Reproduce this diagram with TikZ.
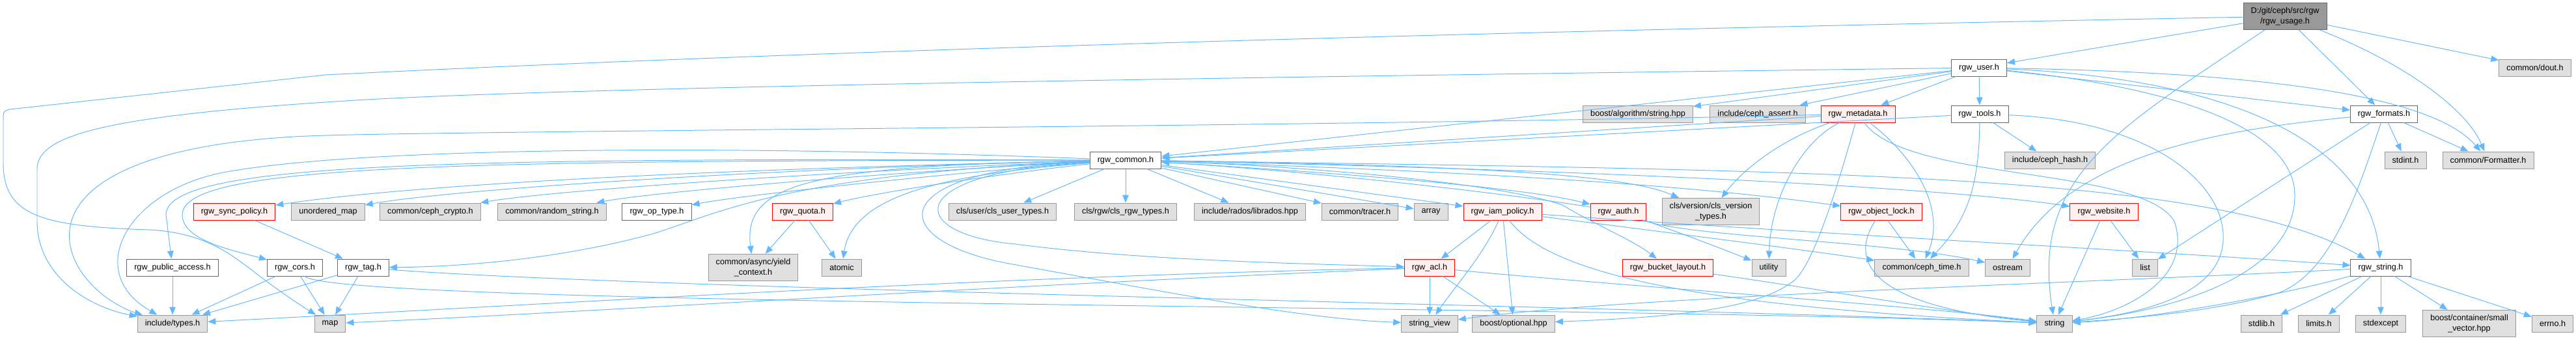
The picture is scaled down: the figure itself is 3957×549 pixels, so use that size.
\documentclass[tikz,border=0pt]{standalone}
\usepackage{fontspec}
\setmainfont{Liberation Sans}
\usepackage{xcolor}
\usepackage{tikz}
\usetikzlibrary{arrows.meta}
\definecolor{edgeblue}{RGB}{99, 184, 255}
\definecolor{sysgray}{RGB}{224, 224, 224}
\definecolor{sysborder}{RGB}{153, 153, 153}
\definecolor{fileborder}{RGB}{102, 102, 102}
\definecolor{rootgray}{RGB}{153, 153, 153}
\definecolor{truncred}{RGB}{255, 240, 240}

\begin{document}
\begin{tikzpicture}[
  x=0.025cm, y=-0.025cm,
  box/.style={draw=fileborder, fill=white, line width=0.7pt, minimum height=0.65cm,
              inner xsep=0.29cm, inner ysep=0.08cm, align=center,
              font=\fontsize{9}{11.3}\selectfont},
  sysbox/.style={box, draw=sysborder, fill=sysgray},
  redbox/.style={box, draw=red, fill=truncred},
  rootbox/.style={box, draw=fileborder, fill=rootgray},
  tall/.style={minimum height=1.03cm},
  arrow/.style={draw=edgeblue, line width=0.7pt, -{Triangle[length=0.3cm, width=0.24cm]}}
]
  \useasboundingbox (0,0) rectangle (3957,549);

  % Root file
  \node[rootbox, tall] (root) at (3510,25) {D:/git/ceph/src/rgw\\/rgw\_usage.h};
  \node[sysbox] (dout) at (3894,104) {common/dout.h};
  \node[box] (user) at (3040,104) {rgw\_user.h};

  % Second row
  \node[sysbox] (boostalgo) at (2516,175) {boost/algorithm/string.hpp};
  \node[sysbox] (assert) at (2700,175) {include/ceph\_assert.h};
  \node[redbox] (metadata) at (2854,175) {rgw\_metadata.h};
  \node[box] (tools) at (3041,175) {rgw\_tools.h};
  \node[box] (formats) at (3662,175) {rgw\_formats.h};
  \node[sysbox] (hash) at (3149,246) {include/ceph\_hash.h};
  \node[sysbox] (stdint) at (3695,246) {stdint.h};
  \node[sysbox] (formatter) at (3822,246) {common/Formatter.h};
  \node[box] (common) at (1729,246) {rgw\_common.h};

  % Headers of rgw_common.h
  \node[redbox] (syncpol) at (360,325) {rgw\_sync\_policy.h};
  \node[sysbox] (unordmap) at (504,325) {unordered\_map};
  \node[sysbox] (crypto) at (661,325) {common/ceph\_crypto.h};
  \node[sysbox] (random) at (848,325) {common/random\_string.h};
  \node[box] (optype) at (1009,325) {rgw\_op\_type.h};
  \node[redbox] (quota) at (1233,325) {rgw\_quota.h};
  \node[sysbox] (clsuser) at (1540,325) {cls/user/cls\_user\_types.h};
  \node[sysbox] (clsrgw) at (1729,325) {cls/rgw/cls\_rgw\_types.h};
  \node[sysbox] (librados) at (1920,325) {include/rados/librados.hpp};
  \node[sysbox] (tracer) at (2089,325) {common/tracer.h};
  \node[sysbox] (array) at (2198,325) {array};
  \node[redbox] (iam) at (2308,325) {rgw\_iam\_policy.h};
  \node[redbox] (auth) at (2486,325) {rgw\_auth.h};
  \node[sysbox, tall] (clsver) at (2628,325) {cls/version/cls\_version\\\_types.h};
  \node[redbox] (objlock) at (2890,325) {rgw\_object\_lock.h};
  \node[redbox] (website) at (3232,325) {rgw\_website.h};

  % Third row
  \node[box] (pubacc) at (265,411) {rgw\_public\_access.h};
  \node[box] (cors) at (453,411) {rgw\_cors.h};
  \node[box] (tag) at (558,411) {rgw\_tag.h};
  \node[sysbox, tall] (yield) at (1157,411) {common/async/yield\\\_context.h};
  \node[sysbox] (atomic) at (1293,411) {atomic};
  \node[redbox] (acl) at (2196,411) {rgw\_acl.h};
  \node[redbox] (bucket) at (2562,411) {rgw\_bucket\_layout.h};
  \node[sysbox] (utility) at (2717,411) {utility};
  \node[sysbox] (cephtime) at (2952,411) {common/ceph\_time.h};
  \node[sysbox] (ostream) at (3084,411) {ostream};
  \node[sysbox] (list) at (3295,411) {list};
  \node[box] (rgwstring) at (3657,411) {rgw\_string.h};

  % Bottom row
  \node[sysbox] (types) at (265,497) {include/types.h};
  \node[sysbox] (map) at (507,497) {map};
  \node[sysbox] (strview) at (2196,497) {string\_view};
  \node[sysbox] (optional) at (2325,497) {boost/optional.hpp};
  \node[sysbox] (string) at (3156,497) {string};
  \node[sysbox] (stdlib) at (3474,497) {stdlib.h};
  \node[sysbox] (limits) at (3562,497) {limits.h};
  \node[sysbox] (stdexcept) at (3657,497) {stdexcept};
  \node[sysbox, tall] (smallvec) at (3793,497) {boost/container/small\\\_vector.hpp};
  \node[sysbox] (errno) at (3921,497) {errno.h};

  % Arrows from rgw_usage.h
  \draw[arrow] (root) -- (user);
  \draw[arrow] (root) -- (dout);
  \draw[arrow] (root) -- (formats);
  \draw[arrow] (root) .. controls (3700,100) and (3790,170) .. (formatter);
  \draw[arrow] (root) .. controls (3250,200) and (3120,270) .. (string);
  \draw[arrow] (root) .. controls (2200,50) and (1200,80) .. (500,115) -- (15,168)
    .. controls (5,170) and (5,172) .. (5,185) -- (5,250)
    .. controls (5,330) and (60,348) .. (230,353)
    .. controls (320,358) and (360,395) .. (400,425)
    .. controls (430,448) and (460,468) .. (map);

  % Arrows from rgw_user.h
  \draw[arrow] (user) .. controls (1800,120) and (800,135) .. (500,157)
    .. controls (150,180) and (57,210) .. (57,260) -- (57,340)
    .. controls (57,420) and (130,470) .. (types);
  \draw[arrow] (user) -- (common);
  \draw[arrow] (user) -- (boostalgo);
  \draw[arrow] (user) -- (assert);
  \draw[arrow] (user) -- (metadata);
  \draw[arrow] (user) -- (tools);
  \draw[arrow] (user) -- (formats);
  \draw[arrow] (user) .. controls (3500,112) and (3740,150) .. (formatter);
  \draw[arrow] (user) .. controls (3450,122) and (3640,230) .. (rgwstring);
  \draw[arrow] (user) .. controls (3350,135) and (3525,200) .. (3525,300)
    .. controls (3525,420) and (3350,475) .. (string);

  % Arrows from rgw_tools.h
  \draw[arrow] (tools) -- (common);
  \draw[arrow] (tools) -- (hash);
  \draw[arrow] (tools) .. controls (3040,290) and (3020,340) .. (cephtime);
  \draw[arrow] (tools) .. controls (3300,185) and (3420,280) .. (3415,370)
    .. controls (3410,450) and (3300,480) .. (string);

  % Arrows from rgw_metadata.h
  \draw[arrow] (metadata) .. controls (2000,195) and (800,200) .. (500,208)
    .. controls (150,218) and (70,320) .. (120,410)
    .. controls (150,460) and (200,478) .. (types);
  \draw[arrow] (metadata) -- (common);
  \draw[arrow] (metadata) .. controls (2760,205) and (2690,245) .. (clsver);
  \draw[arrow] (metadata) .. controls (2770,215) and (2720,300) .. (utility);
  \draw[arrow] (metadata) .. controls (2830,260) and (2790,400) .. (2757,430)
    .. controls (2700,478) and (2550,488) .. (optional);
  \draw[arrow] (metadata) .. controls (2940,240) and (2990,320) .. (cephtime);
  \draw[arrow] (metadata) .. controls (2930,280) and (3290,255) .. (3340,340)
    .. controls (3370,430) and (3260,480) .. (string);

  % Arrows from rgw_formats.h
  \draw[arrow] (formats) .. controls (3400,200) and (3180,240) .. (ostream);
  \draw[arrow] (formats) -- (list);
  \draw[arrow] (formats) .. controls (3620,300) and (3580,420) .. (3500,450)
    .. controls (3400,480) and (3260,490) .. (string);
  \draw[arrow] (formats) -- (stdint);
  \draw[arrow] (formats) -- (formatter);

  % Arrows from rgw_common.h
  \draw[arrow] (common) .. controls (1000,218) and (500,232) .. (333,267)
    .. controls (190,300) and (130,420) .. (types);
  \draw[arrow] (common) .. controls (1000,262) and (600,288) .. (syncpol);
  \draw[arrow] (common) .. controls (1200,258) and (700,290) .. (unordmap);
  \draw[arrow] (common) .. controls (1300,262) and (850,292) .. (crypto);
  \draw[arrow] (common) .. controls (1400,262) and (1000,295) .. (random);
  \draw[arrow] (common) .. controls (1500,262) and (1150,298) .. (optype);
  \draw[arrow] (common) .. controls (1550,265) and (1350,295) .. (quota);
  \draw[arrow] (common) .. controls (1250,255) and (1140,280) .. (yield);
  \draw[arrow] (common) .. controls (1450,268) and (1310,300) .. (atomic);
  \draw[arrow] (common) -- (clsuser);
  \draw[arrow] (common) -- (clsrgw);
  \draw[arrow] (common) -- (librados);
  \draw[arrow] (common) -- (tracer);
  \draw[arrow] (common) -- (array);
  \draw[arrow] (common) -- (iam);
  \draw[arrow] (common) .. controls (2100,268) and (2350,290) .. (auth);
  \draw[arrow] (common) .. controls (2300,255) and (2500,270) .. (clsver);
  \draw[arrow] (common) .. controls (2300,265) and (2600,285) .. (objlock);
  \draw[arrow] (common) .. controls (2500,262) and (3000,290) .. (website);
  \draw[arrow] (common) .. controls (2800,262) and (3400,265) .. (rgwstring);
  \draw[arrow] (common) .. controls (1200,268) and (1100,330) .. (1000,360)
    .. controls (850,400) and (700,410) .. (tag);
  \draw[arrow] (common) .. controls (700,247) and (280,252) .. (280,330)
    .. controls (280,370) and (360,385) .. (cors);
  \draw[arrow] (common) .. controls (700,243) and (255,248) .. (255,330) -- (pubacc);
  \draw[arrow] (common) .. controls (1380,265) and (1390,360) .. (1560,375)
    .. controls (1750,400) and (2000,405) .. (acl);
  \draw[arrow] (common) .. controls (1350,262) and (1360,370) .. (1550,405)
    .. controls (1800,450) and (2000,490) .. (strview);
  \draw[arrow] (common) .. controls (2000,255) and (2300,280) .. (2400,315)
    .. controls (2450,345) and (2510,370) .. (bucket);

  % Arrows from the other headers
  \draw[arrow] (syncpol) -- (tag);
  \draw[arrow] (quota) -- (yield);
  \draw[arrow] (quota) -- (atomic);
  \draw[arrow] (iam) -- (acl);
  \draw[arrow] (iam) .. controls (2280,390) and (2235,440) .. (strview);
  \draw[arrow] (iam) -- (optional);
  \draw[arrow] (iam) .. controls (2380,420) and (2600,470) .. (string);
  \draw[arrow] (iam) .. controls (2600,362) and (2780,385) .. (cephtime);
  \draw[arrow] (iam) .. controls (2800,360) and (3300,385) .. (rgwstring);
  \draw[arrow] (auth) .. controls (2300,295) and (2000,262) .. (common);
  \draw[arrow] (auth) .. controls (2560,350) and (2640,380) .. (utility);
  \draw[arrow] (auth) .. controls (2600,365) and (2900,370) .. (ostream);
  \draw[arrow] (acl) .. controls (1500,425) and (800,470) .. (types);
  \draw[arrow] (acl) .. controls (1500,440) and (900,480) .. (map);
  \draw[arrow] (acl) -- (strview);
  \draw[arrow] (acl) -- (optional);
  \draw[arrow] (acl) .. controls (2500,440) and (2950,470) .. (string);
  \draw[arrow] (tag) -- (types);
  \draw[arrow] (tag) -- (map);
  \draw[arrow] (tag) .. controls (1000,445) and (2500,470) .. (string);
  \draw[arrow] (cors) -- (types);
  \draw[arrow] (cors) -- (map);
  \draw[arrow] (cors) .. controls (520,470) and (2400,468) .. (string);
  \draw[arrow] (pubacc) -- (types);
  \draw[arrow] (objlock) -- (cephtime);
  \draw[arrow] (objlock) .. controls (2840,400) and (2870,470) .. (string);
  \draw[arrow] (website) -- (string);
  \draw[arrow] (website) -- (list);
  \draw[arrow] (bucket) .. controls (2800,445) and (3000,480) .. (string);

  % Arrows from rgw_string.h
  \draw[arrow] (rgwstring) .. controls (3200,435) and (2500,455) .. (strview);
  \draw[arrow] (rgwstring) .. controls (3500,455) and (3300,490) .. (string);
  \draw[arrow] (rgwstring) -- (stdlib);
  \draw[arrow] (rgwstring) -- (limits);
  \draw[arrow] (rgwstring) -- (stdexcept);
  \draw[arrow] (rgwstring) -- (smallvec);
  \draw[arrow] (rgwstring) -- (errno);

\end{tikzpicture}
\end{document}
